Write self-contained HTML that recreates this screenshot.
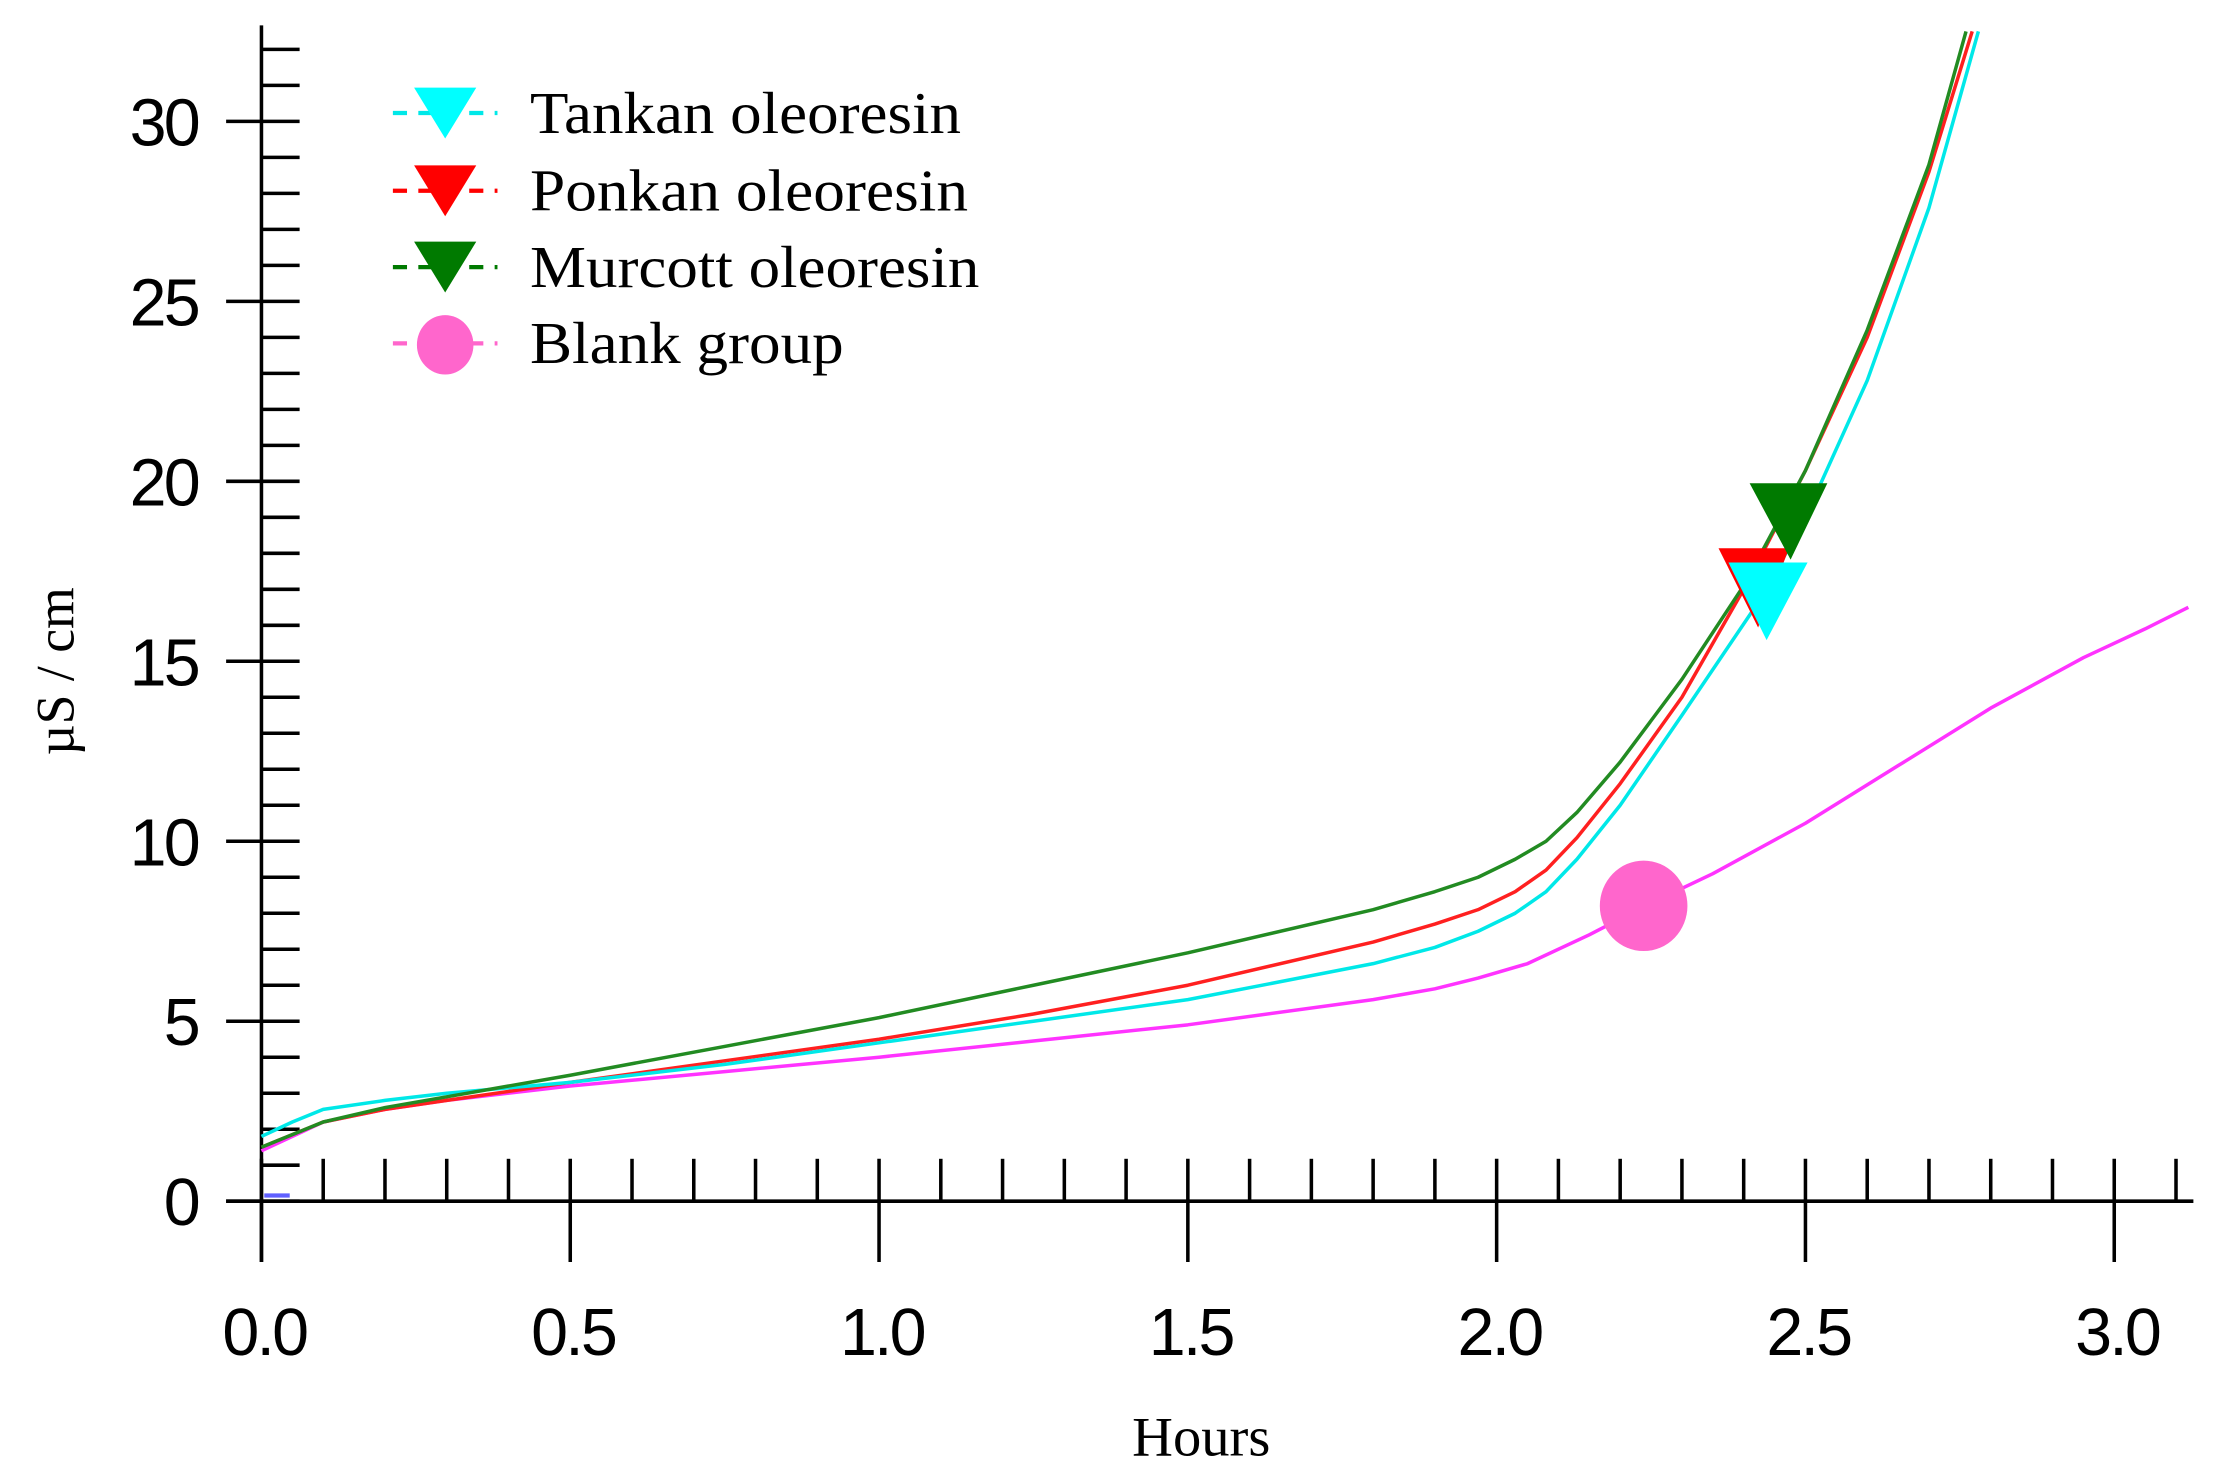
<!DOCTYPE html>
<html><head><meta charset="utf-8"><style>
html,body{margin:0;padding:0;background:#fff;width:2216px;height:1481px;overflow:hidden}
svg{display:block}
.t{font-family:"Liberation Sans",sans-serif;font-size:47px;fill:#000;letter-spacing:-2px}
.s{font-family:"Liberation Serif",serif;fill:#000}
</style></head><body>
<svg width="2216" height="1481" viewBox="0 0 1568 1048" preserveAspectRatio="none" xmlns="http://www.w3.org/2000/svg">
<g stroke="#000" stroke-width="2.5" id="ax"></g>
<g id="lab"></g>
<g transform="translate(185,850) scale(437,-25.47)" fill="none" stroke-width="3.5" stroke-linejoin="round">
<polyline vector-effect="non-scaling-stroke" stroke="#ff33ff" points="0,1.4 0.05,1.8 0.1,2.2 0.2,2.55 0.3,2.8 0.5,3.2 0.75,3.6 1.0,4.0 1.25,4.45 1.5,4.9 1.8,5.6 1.9,5.9 1.97,6.2 2.05,6.6 2.15,7.4 2.24,8.2 2.35,9.1 2.5,10.5 2.65,12.1 2.8,13.7 2.95,15.1 3.05,15.9 3.12,16.5"/>
<polyline vector-effect="non-scaling-stroke" stroke="#ff2020" points="0,1.5 0.05,1.85 0.1,2.2 0.2,2.55 0.3,2.8 0.5,3.3 0.75,3.9 1.0,4.5 1.25,5.2 1.5,6.0 1.8,7.2 1.9,7.7 1.97,8.1 2.03,8.6 2.08,9.2 2.13,10.1 2.2,11.6 2.3,14.0 2.4,17.0 2.5,20.3 2.6,24.0 2.7,28.6 2.77,32.5"/>
<polyline vector-effect="non-scaling-stroke" stroke="#00e8e8" points="0,1.8 0.05,2.2 0.1,2.55 0.2,2.8 0.3,3.0 0.5,3.3 0.75,3.8 1.0,4.4 1.25,5.0 1.5,5.6 1.8,6.6 1.9,7.05 1.97,7.5 2.03,8.0 2.08,8.6 2.13,9.5 2.2,11.0 2.3,13.5 2.43,16.8 2.5,19.0 2.6,22.8 2.7,27.6 2.78,32.5"/>
<polyline vector-effect="non-scaling-stroke" stroke="#228b22" points="0,1.5 0.05,1.85 0.1,2.2 0.2,2.6 0.3,2.9 0.5,3.5 0.75,4.3 1.0,5.1 1.25,6.0 1.5,6.9 1.8,8.1 1.9,8.6 1.97,9.0 2.03,9.5 2.08,10.0 2.13,10.8 2.2,12.2 2.3,14.5 2.4,17.1 2.5,20.3 2.6,24.2 2.7,28.8 2.76,32.5"/>
</g>
<ellipse cx="1163" cy="641" rx="31" ry="32" fill="#ff66cc"/>
<polygon points="1216,388 1266,388 1244,444" fill="#ff0000"/>
<polygon points="1238,342 1293,342 1267,396" fill="#007a00"/>
<polygon points="1223,398 1279,398 1250,453" fill="#00ffff"/>
<g stroke-width="3" stroke-dasharray="10,8">
<line x1="278" y1="80" x2="352" y2="80" stroke="#00e8e8"/>
<line x1="278" y1="135" x2="352" y2="135" stroke="#ff0000"/>
<line x1="278" y1="189" x2="352" y2="189" stroke="#007a00"/>
<line x1="278" y1="243" x2="352" y2="243" stroke="#ff66cc"/>
</g>
<polygon points="293,62 337,62 315,98" fill="#00ffff"/>
<polygon points="293,117 337,117 315,153" fill="#ff0000"/>
<polygon points="293,171 337,171 315,207" fill="#007a00"/>
<ellipse cx="315" cy="244" rx="20" ry="21" fill="#ff66cc"/>
<g class="s" font-size="42">
<text x="375" y="94" textLength="305" lengthAdjust="spacingAndGlyphs">Tankan oleoresin</text>
<text x="375" y="149" textLength="310" lengthAdjust="spacingAndGlyphs">Ponkan oleoresin</text>
<text x="375" y="203" textLength="318" lengthAdjust="spacingAndGlyphs">Murcott oleoresin</text>
<text x="375" y="257" textLength="222" lengthAdjust="spacingAndGlyphs">Blank group</text>
</g>
<text class="s" font-size="40" x="850" y="1030" text-anchor="middle">Hours</text>
<text class="s" font-size="38" transform="translate(52,475) rotate(-90)" text-anchor="middle">µS / cm</text>
<line x1="187" y1="846" x2="205" y2="846" stroke="#6060ff" stroke-width="3"/>
</svg>
<script>
var ns="http://www.w3.org/2000/svg",ax=document.getElementById("ax"),lab=document.getElementById("lab");
function L(x1,y1,x2,y2){var l=document.createElementNS(ns,"line");l.setAttribute("x1",x1);l.setAttribute("y1",y1);l.setAttribute("x2",x2);l.setAttribute("y2",y2);ax.appendChild(l);}
function T(x,y,s,a){var t=document.createElementNS(ns,"text");t.setAttribute("x",x);t.setAttribute("y",y);t.setAttribute("class","t");t.setAttribute("text-anchor",a);t.textContent=s;lab.appendChild(t);}
L(185,18,185,893);L(160,850,1552,850);
for(var v=0;v<=32;v++){var y=850-25.47*v;if(v%5==0){L(160,y,212,y);T(140,y+17,String(v),"end");}else L(185,y,212,y);}
for(var i=0;i<=31;i++){var x=185+43.7*i;if(i%5==0){L(x,820,x,893);T(x+2,959,(i/10).toFixed(1),"middle");}else L(x,820,x,850);}
</script>
</body></html>
